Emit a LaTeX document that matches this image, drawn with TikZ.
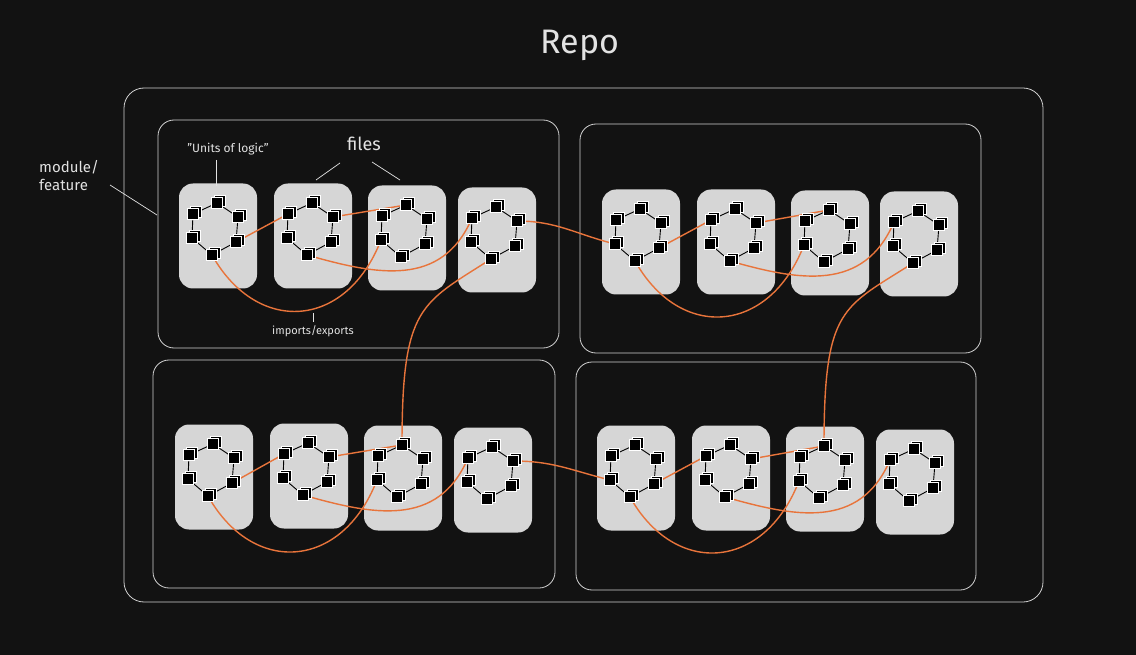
\documentclass[tikz,border=0pt]{standalone}
\usepackage{fontspec}
\setmainfont{Fira Sans}
\usetikzlibrary{calc}
\definecolor{bg}{HTML}{121212}
\definecolor{fileg}{HTML}{D6D6D6}
\definecolor{org}{HTML}{E8743B}
\definecolor{txt}{HTML}{E2E2E2}
\definecolor{bord}{HTML}{D0D0D0}
\tikzset{
 filebg/.style={rectangle,rounded corners=14pt,minimum width=78pt,minimum height=105pt,fill=fileg,draw=none,inner sep=0pt},
 ring/.style={draw=black,line width=0.9pt},
 wire/.style={draw=org,line width=1.4pt},
 frame/.style={draw=bord,line width=0.8pt,rounded corners=16pt},
 lbl/.style={text=txt,inner sep=1pt},
 tick/.style={draw=txt,line width=0.7pt}
}
\newcommand\filebox[3]{%
 \node[filebg] (#1) at (#2,#3) {};
 \coordinate (#1-1) at (#2-1,#3-33);
 \coordinate (#1-2) at (#2-25,#3-22);
 \coordinate (#1-3) at (#2-26,#3+2);
 \coordinate (#1-4) at (#2-6,#3+19);
 \coordinate (#1-5) at (#2+18,#3+6);
 \coordinate (#1-6) at (#2+20,#3-19);
}
\newcommand\onecube[1]{%
 \draw[white,fill=black,line width=0.8pt] ($(#1)+(-3,-8)$) rectangle +(11,11);
 \draw[white,fill=black,line width=0.8pt] ($(#1)+(-5.5,-5.5)$) rectangle +(11,11);
}
\newcommand\ringof[1]{%
 \draw[ring] (#1-1)--(#1-6)--(#1-5)--(#1-4)--(#1-3)--(#1-2)--cycle;
 \foreach \k in {1,...,6}{\onecube{#1-\k}}
}
\newcommand\modwires[4]{%
 \draw[wire] (#1-5) -- (#2-2);
 \draw[wire] (#1-4) .. controls +(45,80) and +(-35,90) .. (#3-3);
 \draw[wire] (#2-6) -- (#3-1);
 \draw[wire] (#2-4) .. controls +(70,20) and +(-30,70) .. (#4-2);
}
\begin{document}
\begin{tikzpicture}[x=1pt,y=-1pt]
\fill[bg] (0,0) rectangle (1136,655);
\useasboundingbox (0,0) rectangle (1136,655);
\node[lbl,font=\fontsize{34}{40}\selectfont] (title) at (580,45) {Repo};
\draw[frame,rounded corners=20pt] (124,88) rectangle (1043,602);
\draw[frame] (158,120) rectangle (559,348);
\draw[frame] (580,124) rectangle (981,353);
\draw[frame] (153,360) rectangle (555,588);
\draw[frame] (576,362) rectangle (976,590);
% files
\filebox{a1}{218}{236}\filebox{a2}{313}{236}\filebox{a3}{407}{238}\filebox{a4}{497}{240}
\filebox{b1}{641}{242}\filebox{b2}{736}{242}\filebox{b3}{830}{243}\filebox{b4}{919}{244}
\filebox{c1}{214}{477}\filebox{c2}{309}{476}\filebox{c3}{403}{478}\filebox{c4}{493}{480}
\filebox{d1}{636}{478}\filebox{d2}{731}{478}\filebox{d3}{825}{479}\filebox{d4}{915}{482}
% wires
\modwires{a1}{a2}{a3}{a4}
\modwires{b1}{b2}{b3}{b4}
\modwires{c1}{c2}{c3}{c4}
\modwires{d1}{d2}{d3}{d4}
\draw[wire] (a4-6) .. controls +(40,0) and +(-40,-10) .. (b1-3);
\draw[wire] (c4-6) .. controls +(40,0) and +(-40,-10) .. (d1-3);
\draw[wire] (a4-4) .. controls +(-70,45) and +(0,-140) .. (c3-1);
\draw[wire] (b4-4) .. controls +(-70,45) and +(0,-140) .. (d3-1);
% rings
\foreach \f in {a1,a2,a3,a4,b1,b2,b3,b4,c1,c2,c3,c4,d1,d2,d3,d4}{\ringof{\f}}
% labels
\node[lbl,font=\fontsize{15}{18}\selectfont,align=left,anchor=west] (mod) at (38,176) {module/\\feature};
\draw[tick] (110,185) -- (157,215);
\node[lbl,font=\fontsize{12}{14}\selectfont] (units) at (228,149) {"Units of logic"};
\draw[tick] (216,160) -- (216,186);
\node[lbl,font=\fontsize{18}{21}\selectfont] (files) at (364,144) {files};
\draw[tick] (340,163) -- (316,180);
\draw[tick] (372,162) -- (400,180);
\node[lbl,font=\fontsize{11}{13}\selectfont] (imp) at (313,331) {imports/exports};
\draw[tick] (313,313) -- (313,322);
\end{tikzpicture}
\end{document}
